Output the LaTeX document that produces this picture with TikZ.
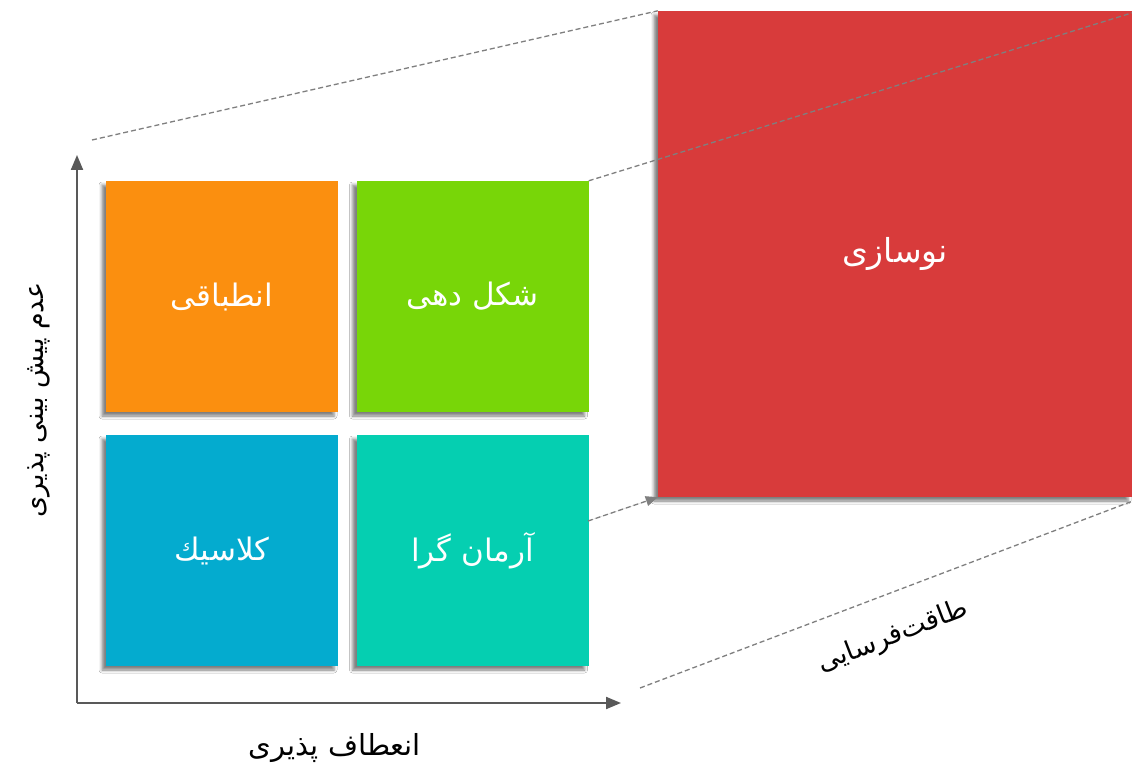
\documentclass[tikz,border=0pt]{standalone}
\usepackage{fontspec}
\newfontfamily\fa[Script=Arabic]{DejaVu Sans}
\TeXXeTstate=1
\usetikzlibrary{shadows.blur,arrows.meta}
\definecolor{cor}{HTML}{FB8F0F}
\definecolor{cgr}{HTML}{78D608}
\definecolor{cbl}{HTML}{04ABCF}
\definecolor{ctl}{HTML}{05CFB1}
\definecolor{crd}{HTML}{D83B3B}
\definecolor{caxis}{HTML}{595959}
\definecolor{cdash}{HTML}{7F7F7F}
\begin{document}
\begin{tikzpicture}[x=1pt,y=-1pt,
  quad/.style={draw=none, inner sep=0pt, minimum width=232pt, minimum height=231pt,
    text=white, font=\fa\fontsize{31}{36}\selectfont,
    blur shadow={shadow xshift=-4pt, shadow yshift=-4pt, shadow blur radius=3pt, shadow opacity=50}},
  axisline/.style={draw=caxis, line width=2pt, -{Triangle[length=15pt,width=12pt]}},
  guide/.style={draw=cdash, line width=1.3pt, dash pattern=on 5pt off 3pt},
  lbl/.style={text=black, font=\fa\fontsize{27}{32}\selectfont, inner sep=0pt}
]
\useasboundingbox[fill=white] (0,0) rectangle (1132,770);

% big red square
\node[quad, fill=crd, minimum width=474pt, minimum height=486pt, font=\fa\fontsize{33}{38}\selectfont] (r) at (895,254) {\beginR نوسازی\endR};

% quadrants
\node[quad, fill=cor] (o) at (222,296.5) {\beginR انطباقی\endR};
\node[quad, fill=cgr] (g) at (472.5,296.5) {\beginR شکل دهی\endR};
\node[quad, fill=cbl] (b) at (222,550.5) {\beginR کلاسیك\endR};
\node[quad, fill=ctl] (t) at (472.5,550.5) {\beginR آرمان گرا\endR};

% axes
\coordinate (org) at (77,703);
\coordinate (ytip) at (77,155);
\coordinate (xtip) at (621,703);
\draw[axisline] (org) -- (ytip);
\draw[axisline] (org) -- (xtip);

% guide lines
\coordinate (d1) at (92,140);
\coordinate (d3) at (588,521);
\coordinate (d4) at (640,688);
\draw[guide] (d1) -- (r.north west);
\draw[guide] (g.north east) -- ([yshift=-2pt]r.north east);
\draw[guide, -{Triangle[length=12pt,width=10pt]}, fill=cdash] (d3) -- (r.south west);
\draw[guide] (d4) -- ([yshift=-4pt]r.south east);

% labels
\node[lbl, rotate=90] (ly) at (39,400) {\beginR عدم پیش بینی پذیری\endR};
\node[lbl, font=\fa\fontsize{29}{34}\selectfont] (lx) at (335,748) {\beginR انعطاف پذیری\endR};
\node[lbl, rotate=21] (lz) at (893,637) {\beginR طاقت‌فرسایی\endR};
\end{tikzpicture}
\end{document}
